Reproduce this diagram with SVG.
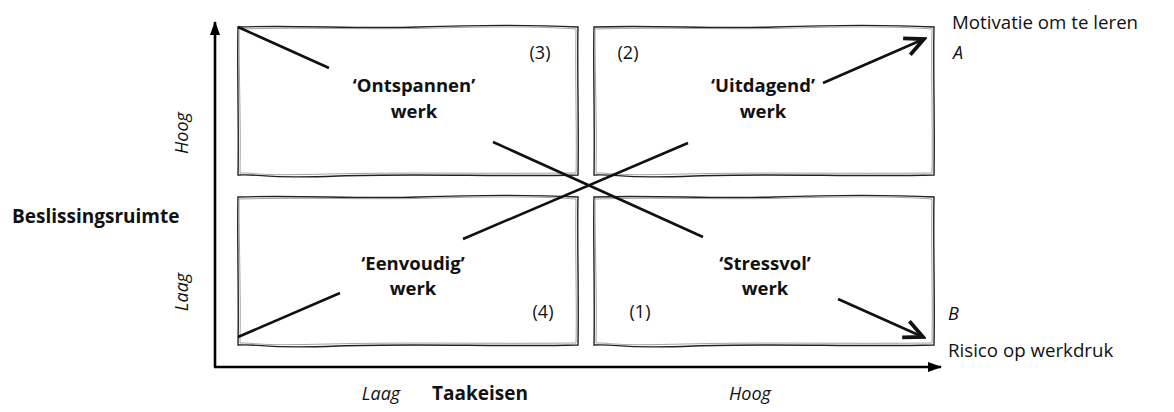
<svg xmlns="http://www.w3.org/2000/svg" xmlns:xlink="http://www.w3.org/1999/xlink" width="1174" height="412" viewBox="0 0 1174 412">
<style>
.b1{fill:none;stroke:#222;stroke-width:1.4}
.b2{fill:none;stroke:#999;stroke-width:0.9}
.ln{fill:none;stroke:#111;stroke-width:2.6;stroke-linecap:butt}
.ax{fill:none;stroke:#000;stroke-width:2.6}
text{font-family:"Open Sans","Liberation Sans",sans-serif;fill:#111}
.lab{font-size:18.5px;font-weight:bold;text-anchor:middle}
.num{font-size:18px;text-anchor:middle}
.side{font-size:18.7px}
.it{font-style:italic;font-size:18px}
.bold{font-weight:bold;font-size:19px}
</style>
<defs>
<g id="box">
<path class="b1" d="M0,0 C60,-2 120,2 180,0 S300,-2 340,0 C339,40 341,100 340,148 C260,150 180,146 100,149 S30,147 0,148 C1,100 -1,40 0,0 Z"/>
<path class="b2" d="M1,2 C70,0 130,3 200,1 S310,0 338,2 C337,50 339,110 338,146 C250,147 170,145 90,147 S25,146 2,146 C3,100 1,50 1,2 Z"/>
</g>
<marker id="open" markerUnits="userSpaceOnUse" markerWidth="24" markerHeight="24" refX="12" refY="6" orient="auto" viewBox="0 0 14 12">
<path d="M1,0.8 L12,6 L1,11.2" fill="none" stroke="#111" stroke-width="2.2" stroke-linejoin="miter"/>
</marker>
<marker id="solid" markerUnits="userSpaceOnUse" markerWidth="14" markerHeight="12" refX="13" refY="5" orient="auto" viewBox="0 0 14 10">
<path d="M0,0 L14,5 L0,10 Z" fill="#000"/>
</marker>
</defs>

<g id="axes">
<path class="ax" d="M215,367 L215,22" marker-end="url(#solid)"/>
<path class="ax" d="M214,367 L941,367" marker-end="url(#solid)"/>
</g>

<g id="node-ontspannen">
<use xlink:href="#box" href="#box" x="238" y="27"/>
<text class="num" x="540" y="59">(3)</text>
<text class="lab" x="414" y="92">‘Ontspannen’</text>
<text class="lab" x="414" y="118">werk</text>
</g>
<g id="node-uitdagend">
<use xlink:href="#box" href="#box" x="594" y="27"/>
<text class="num" x="628" y="59">(2)</text>
<text class="lab" x="763" y="92">‘Uitdagend’</text>
<text class="lab" x="763" y="118">werk</text>
</g>
<g id="node-eenvoudig">
<use xlink:href="#box" href="#box" x="238" y="197"/>
<text class="num" x="543" y="318">(4)</text>
<text class="lab" x="413" y="270">‘Eenvoudig’</text>
<text class="lab" x="413" y="295">werk</text>
</g>
<g id="node-stressvol">
<use xlink:href="#box" href="#box" x="594" y="197"/>
<text class="num" x="640" y="318">(1)</text>
<text class="lab" x="765" y="270">‘Stressvol’</text>
<text class="lab" x="765" y="295">werk</text>
</g>

<g id="connectors">
<path class="ln" d="M238,27 L329,68 M493,142 L703,237"/>
<path class="ln" d="M838,299 L923,337" marker-end="url(#open)"/>
<path class="ln" d="M238,337 L340,293 M463,239 L688,143"/>
<path class="ln" d="M823,83 L924,39" marker-end="url(#open)"/>
</g>

<g id="labels">
<text class="side" x="952" y="29">Motivatie om te leren</text>
<text class="it" x="953" y="59">A</text>
<text class="it" x="948" y="320">B</text>
<text class="side" x="948" y="357">Risico op werkdruk</text>
<text class="bold" x="12" y="223">Beslissingsruimte</text>
<text class="it" text-anchor="middle" transform="translate(188,133) rotate(-90)">Hoog</text>
<text class="it" text-anchor="middle" transform="translate(188,292) rotate(-90)">Laag</text>
<text class="it" text-anchor="middle" x="381" y="400">Laag</text>
<text class="bold" text-anchor="middle" x="480" y="400">Taakeisen</text>
<text class="it" text-anchor="middle" x="750" y="400">Hoog</text>
</g>
</svg>
